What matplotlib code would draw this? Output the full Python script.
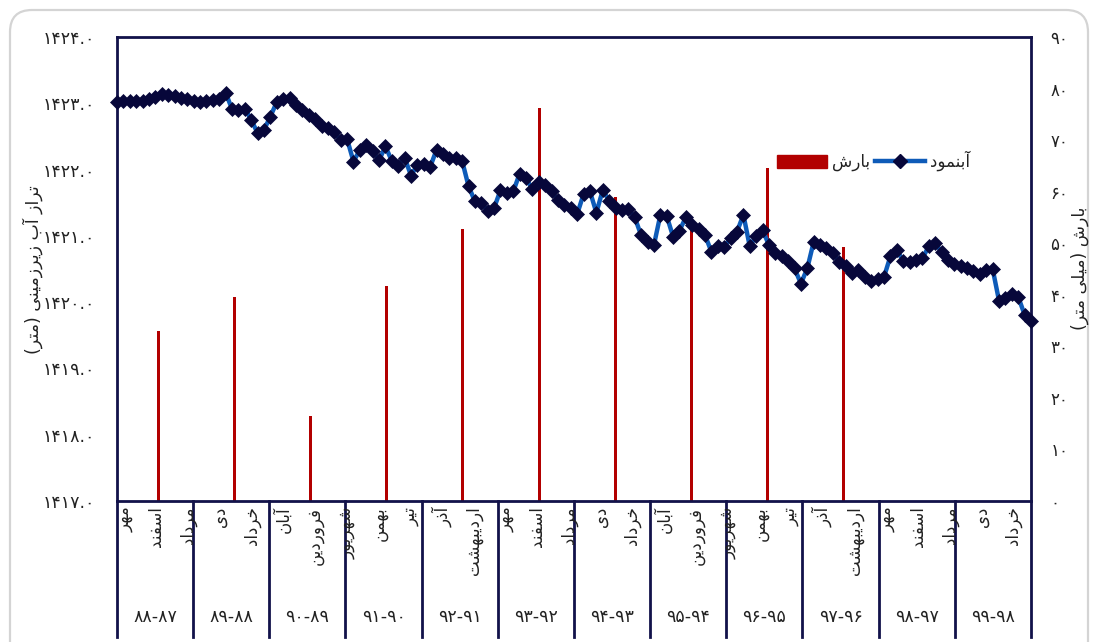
import numpy as np
import matplotlib
matplotlib.use("Agg")
import matplotlib.pyplot as plt
from matplotlib.patches import Patch, FancyBboxPatch
from matplotlib.lines import Line2D
import matplotlib.transforms as mtransforms

# ---------------------------------------------------------------- data
months = ["مهر", "آبان", "آذر", "دی", "بهمن", "اسفند",
          "فروردین", "اردیبهشت", "خرداد", "تیر", "مرداد", "شهریور"]

water_years = ["۸۸-۸۷", "۸۹-۸۸", "۹۰-۸۹", "۹۱-۹۰", "۹۲-۹۱", "۹۳-۹۲",
               "۹۴-۹۳", "۹۵-۹۴", "۹۶-۹۵", "۹۷-۹۶", "۹۸-۹۷", "۹۹-۹۸"]

# monthly groundwater level (m), Mehr 87 .. Shahrivar 99
levels = [
    1423.02, 1423.03, 1423.03, 1423.04, 1423.04, 1423.07, 1423.10, 1423.14, 1423.13, 1423.11, 1423.08, 1423.06,
    1423.03, 1423.02, 1423.04, 1423.05, 1423.06, 1423.16, 1422.91, 1422.90, 1422.92, 1422.75, 1422.55, 1422.60,
    1422.80, 1423.02, 1423.06, 1423.08, 1422.98, 1422.90, 1422.82, 1422.77, 1422.65, 1422.62, 1422.56, 1422.45,
    1422.46, 1422.12, 1422.30, 1422.37, 1422.28, 1422.14, 1422.35, 1422.13, 1422.06, 1422.18, 1421.91, 1422.07,
    1422.09, 1422.04, 1422.30, 1422.24, 1422.17, 1422.17, 1422.13, 1421.75, 1421.52, 1421.50, 1421.38, 1421.42,
    1421.69, 1421.64, 1421.67, 1421.94, 1421.87, 1421.70, 1421.82, 1421.77, 1421.67, 1421.54, 1421.47, 1421.42,
    1421.33, 1421.63, 1421.67, 1421.35, 1421.69, 1421.53, 1421.42, 1421.39, 1421.40, 1421.28, 1421.01, 1420.91,
    1420.86, 1421.31, 1421.30, 1420.99, 1421.08, 1421.28, 1421.16, 1421.11, 1421.01, 1420.76, 1420.85, 1420.83,
    1420.97, 1421.06, 1421.32, 1420.84, 1421.00, 1421.09, 1420.86, 1420.74, 1420.69, 1420.62, 1420.51, 1420.28,
    1420.51, 1420.91, 1420.86, 1420.82, 1420.74, 1420.61, 1420.55, 1420.44, 1420.49, 1420.38, 1420.32, 1420.35,
    1420.38, 1420.69, 1420.79, 1420.62, 1420.61, 1420.64, 1420.66, 1420.84, 1420.89, 1420.76, 1420.64, 1420.57,
    1420.55, 1420.51, 1420.47, 1420.43, 1420.49, 1420.50, 1420.02, 1420.06, 1420.12, 1420.08, 1419.81, 1419.72,
]

# annual rainfall (mm), plotted in the Farvardin slot of each water year
rain_years = [0, 1, 2, 3, 4, 5, 6, 7, 8, 9]
rain = [33.0, 39.6, 16.5, 41.7, 52.8, 76.2, 59.0, 52.8, 64.6, 49.3]

level_ticks = [1417, 1418, 1419, 1420, 1421, 1422, 1423, 1424]
rain_ticks = [0, 10, 20, 30, 40, 50, 60, 70, 80, 90]

label_title_left = "تراز آب زیرزمینی (متر)"
label_title_right = "بارش (میلی متر)"
legend_rain = "بارش"
legend_level = "آبنمود"

# ---------------------------------------------------------------- Persian text shaping
_FORMS = {
    "ا": (0xFE8D, 0xFE8E), "آ": (0xFE81, 0xFE82),
    "ب": (0xFE8F, 0xFE90, 0xFE91, 0xFE92), "ت": (0xFE95, 0xFE96, 0xFE97, 0xFE98),
    "خ": (0xFEA5, 0xFEA6, 0xFEA7, 0xFEA8), "د": (0xFEA9, 0xFEAA),
    "ذ": (0xFEAB, 0xFEAC), "ر": (0xFEAD, 0xFEAE), "ز": (0xFEAF, 0xFEB0),
    "س": (0xFEB1, 0xFEB2, 0xFEB3, 0xFEB4), "ش": (0xFEB5, 0xFEB6, 0xFEB7, 0xFEB8),
    "ف": (0xFED1, 0xFED2, 0xFED3, 0xFED4), "ل": (0xFEDD, 0xFEDE, 0xFEDF, 0xFEE0),
    "م": (0xFEE1, 0xFEE2, 0xFEE3, 0xFEE4), "ن": (0xFEE5, 0xFEE6, 0xFEE7, 0xFEE8),
    "ه": (0xFEE9, 0xFEEA, 0xFEEB, 0xFEEC), "و": (0xFEED, 0xFEEE),
    "ی": (0xFEEF, 0xFEF0, 0xFEF3, 0xFEF4),
}


def shape(text):
    """Join Persian letters with presentation forms and lay them out right-to-left."""
    out = []
    for k, ch in enumerate(text):
        if ch not in _FORMS:
            out.append(ch)
            continue
        prev = text[k - 1] if k > 0 else ""
        nxt = text[k + 1] if k + 1 < len(text) else ""
        dual = len(_FORMS[ch]) == 4
        jp = prev in _FORMS and len(_FORMS[prev]) == 4
        jn = dual and nxt in _FORMS
        f = _FORMS[ch]
        if jp and jn:
            g = f[3]
        elif jp:
            g = f[1]
        elif jn:
            g = f[2]
        else:
            g = f[0]
        out.append(chr(g))
    vis = "".join(reversed(out))
    return vis.translate(str.maketrans("()", ")("))


_DIGITS = str.maketrans("0123456789", "۰۱۲۳۴۵۶۷۸۹")


def fa_num(s):
    return s.translate(_DIGITS)


# ---------------------------------------------------------------- figure
plt.rcParams["font.family"] = ["DejaVu Sans"]
W, H = 1098, 642
fig = plt.figure(figsize=(W / 100, H / 100), dpi=100)

navy = "#12124a"
line_blue = "#0e5bb8"
marker_navy = "#07073a"
bar_red = "#b20000"
text_col = "#222222"

# rounded card outline behind everything
card = FancyBboxPatch((0.1, -0.5), 10.78, 6.82,
                      boxstyle="round,pad=0,rounding_size=0.22",
                      transform=fig.dpi_scale_trans, facecolor="white",
                      edgecolor="#d4d4d4", linewidth=1.6, zorder=-10)
fig.patches.append(card)

rect = [117 / W, (H - 501) / H, 914 / W, 464 / H]

# --- rainfall bars (right axis) and category axis
ax_bar = fig.add_axes(rect, zorder=1)
ax_bar.patch.set_visible(False)
n = len(levels)
bar_x = [12 * y + 6 for y in rain_years]
ax_bar.bar(bar_x, rain, width=0.45, color=bar_red, zorder=2)
ax_bar.set_xlim(-0.5, n - 0.5)
ax_bar.set_ylim(0, 90)
ax_bar.yaxis.tick_right()
ax_bar.set_yticks(rain_ticks)
ax_bar.set_yticklabels([fa_num(str(t)) for t in rain_ticks], fontsize=12, color=text_col)
ax_bar.tick_params(axis="y", length=0, pad=14)
ax_bar.set_xticks([])
for s in ax_bar.spines.values():
    s.set_color(navy)
    s.set_linewidth(2)
fig.text(1080 / W, 1 - 268 / H, shape(label_title_right), rotation=90,
         ha="center", va="center", fontsize=12.5, color=text_col)

# month names every fifth month, water-year labels and group dividers
trans = mtransforms.blended_transform_factory(ax_bar.transData, ax_bar.transAxes)
for i in range(0, n, 5):
    ax_bar.text(i + 0.7, -0.012, shape(months[i % 12]), rotation=90, ha="center", va="top",
                fontsize=12, color=text_col, transform=trans, clip_on=False)
for k, lab in enumerate(water_years):
    ax_bar.text(12 * k + 5.5, -0.25, lab, ha="center", va="center",
                fontsize=12.5, color=text_col, transform=trans, clip_on=False)
for k in range(len(water_years) + 1):
    xb = 12 * k - 0.5
    ax_bar.add_line(Line2D([xb, xb], [0, -0.293], color=navy, lw=2,
                           transform=trans, clip_on=False))

# --- groundwater level line (left axis)
ax_line = fig.add_axes(rect, zorder=2)
ax_line.patch.set_visible(False)
ax_line.plot(np.arange(n), levels, color=line_blue, lw=3.2, marker="D",
             markersize=7.2, markerfacecolor=marker_navy, markeredgecolor=marker_navy,
             markeredgewidth=0.5, zorder=3, clip_on=False)
ax_line.set_xlim(0, n - 1)
ax_line.set_ylim(1417, 1424)
ax_line.set_xticks([])
ax_line.set_yticks(level_ticks)
ax_line.set_yticklabels([fa_num(f"{t}.0") for t in level_ticks], fontsize=12.5, color=text_col)
ax_line.tick_params(axis="y", length=0, pad=16)
for s in ax_line.spines.values():
    s.set_visible(False)
fig.text(33 / W, 1 - 270 / H, shape(label_title_left), rotation=90,
         ha="center", va="center", fontsize=12.5, color=text_col)

# legend
handles = [Patch(facecolor=bar_red, edgecolor=bar_red),
           Line2D([], [], color=line_blue, lw=3.2, marker="D", markersize=7.2,
                  markerfacecolor=marker_navy, markeredgecolor=marker_navy)]
fig.legend(handles, [shape(legend_rain), shape(legend_level)], ncol=2,
           loc="center left", bbox_to_anchor=(762 / W, 1 - 161 / H),
           frameon=False, fontsize=12, handlelength=3.0, handleheight=0.8,
           columnspacing=0.3, handletextpad=0.3, labelcolor=text_col)

fig.savefig("out.png", dpi=100)
